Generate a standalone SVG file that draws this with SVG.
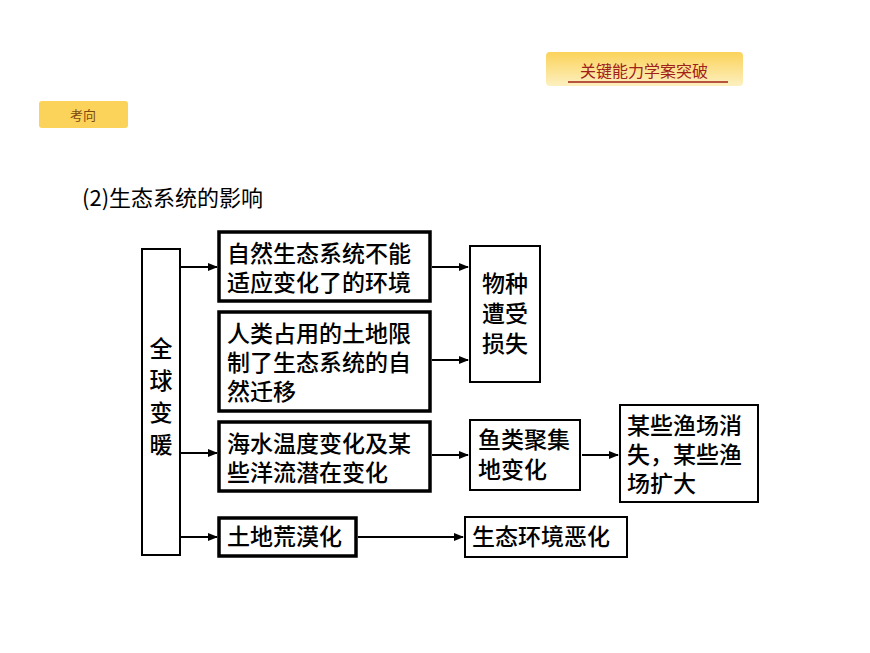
<svg xmlns="http://www.w3.org/2000/svg" width="870" height="653" viewBox="0 0 870 653">
<defs>
<linearGradient id="g" x1="0" y1="0" x2="0" y2="1"><stop offset="0" stop-color="#fbd35a"/><stop offset="1" stop-color="#fdf0c0"/></linearGradient>
<marker id="a" markerWidth="10" markerHeight="8" refX="9" refY="4" orient="auto" markerUnits="userSpaceOnUse"><path d="M0,0 L10,4 L0,8 Z" fill="#000"/></marker>
</defs>
<style>
text{font-family:"Noto Sans CJK SC","Noto Sans CJK JP",sans-serif;fill:#000}
.t{font-size:23px;font-weight:500}
.thin{fill:#fff;stroke:#000;stroke-width:2}
.thick{fill:#fff;stroke:#000;stroke-width:3.5}
.c{stroke:#000;stroke-width:2;fill:none;marker-end:url(#a)}
</style>
<rect width="870" height="653" fill="#fff"/>
<g id="tab-top"><rect x="546" y="52" width="197" height="34" rx="4" fill="url(#g)"/><text x="644" y="77" text-anchor="middle" font-size="16" style="fill:#a0201a">关键能力学案突破</text><line x1="568" y1="82" x2="728" y2="82" stroke="#a0201a" stroke-width="1.5"/></g>
<g id="tab-left"><rect x="39" y="101" width="89" height="27" rx="3" fill="#fbd35a"/><text x="83" y="120" text-anchor="middle" font-size="13" style="fill:#7a4a10">考向</text></g>
<text x="82" y="206" font-size="22" font-family="Liberation Serif,'Noto Sans CJK SC',serif">(2)生态系统的影响</text>
<g id="connectors">
<line class="c" x1="181" y1="267" x2="217" y2="267"/>
<line class="c" x1="181" y1="453" x2="217" y2="453"/>
<line class="c" x1="181" y1="537" x2="217" y2="537"/>
<line class="c" x1="432" y1="267" x2="468" y2="267"/>
<line class="c" x1="432" y1="360" x2="468" y2="360"/>
<line class="c" x1="432" y1="455" x2="468" y2="455"/>
<line class="c" x1="582" y1="455" x2="618" y2="455"/>
<line class="c" x1="358" y1="537" x2="463" y2="537"/>
</g>
<g id="n0"><rect class="thin" x="142" y="249" width="38" height="306"/><text class="t" x="161" y="357" text-anchor="middle">全</text><text class="t" x="161" y="389" text-anchor="middle">球</text><text class="t" x="161" y="421" text-anchor="middle">变</text><text class="t" x="161" y="453" text-anchor="middle">暖</text></g>
<g id="n1"><rect class="thick" x="219" y="232" width="211" height="69"/><text class="t" x="227" y="262">自然生态系统不能</text><text class="t" x="227" y="291">适应变化了的环境</text></g>
<g id="n2"><rect class="thick" x="219" y="312" width="211" height="99"/><text class="t" x="227" y="342">人类占用的土地限</text><text class="t" x="227" y="371">制了生态系统的自</text><text class="t" x="227" y="400">然迁移</text></g>
<g id="n3"><rect class="thick" x="219" y="422" width="211" height="69"/><text class="t" x="227" y="452">海水温度变化及某</text><text class="t" x="227" y="481">些洋流潜在变化</text></g>
<g id="n4"><rect class="thick" x="219" y="518" width="137" height="38"/><text class="t" x="227" y="545">土地荒漠化</text></g>
<g id="n5"><rect class="thin" x="470" y="246" width="70" height="136"/><text class="t" x="505" y="292" text-anchor="middle">物种</text><text class="t" x="505" y="322" text-anchor="middle">遭受</text><text class="t" x="505" y="352" text-anchor="middle">损失</text></g>
<g id="n6"><rect class="thin" x="470" y="420" width="110" height="70"/><text class="t" x="478" y="448">鱼类聚集</text><text class="t" x="478" y="478">地变化</text></g>
<g id="n7"><rect class="thin" x="620" y="405" width="138" height="97"/><text class="t" x="627" y="434">某些渔场消</text><text class="t" x="627" y="463">失，某些渔</text><text class="t" x="627" y="492">场扩大</text></g>
<g id="n8"><rect class="thin" x="465" y="517" width="162" height="40"/><text class="t" x="472" y="545">生态环境恶化</text></g>
</svg>
